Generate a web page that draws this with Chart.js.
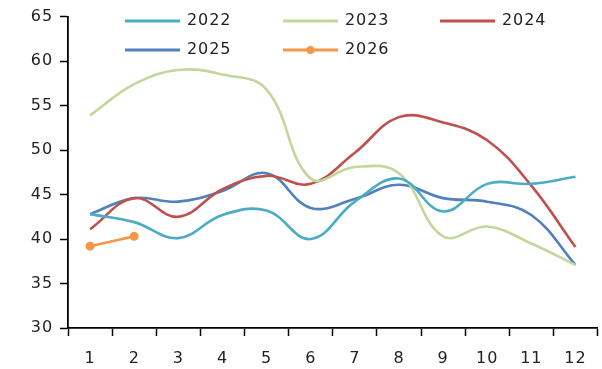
<!DOCTYPE html>
<html>
<head>
<meta charset="utf-8">
<script src="https://cdn.jsdelivr.net/npm/chart.js@4"></script>
<style>
  html, body { margin: 0; padding: 0; background: #fff; }
  #wrap { width: 602px; height: 369px; }
</style>
</head>
<body>
<div id="wrap"><canvas id="my-chart" width="602" height="369"></canvas></div>
<script>
'use strict';

// ***** DATA *****

let months = ['1', '2', '3', '4', '5', '6', '7', '8', '9', '10', '11', '12'];
let yearLabels = ['2022', '2023', '2024', '2025', '2026'];
let yTicks = [30, 35, 40, 45, 50, 55, 60, 65];

let values2022 = [42.8, 41.9, 40.1, 42.7, 43.2, 40.0, 44.2, 46.8, 43.1, 46.2, 46.2, 47.0];
let values2023 = [53.9, 57.4, 59.0, 58.5, 56.8, 46.8, 48.1, 47.4, 40.3, 41.4, 39.5, 37.1];
let values2024 = [41.1, 44.6, 42.5, 45.6, 47.1, 46.2, 49.7, 53.7, 53.1, 51.1, 46.0, 39.1];
let values2025 = [42.8, 44.6, 44.2, 45.4, 47.4, 43.5, 44.5, 46.1, 44.6, 44.2, 42.7, 37.1];
let values2026 = [39.2, 40.3];

// ***** STYLE *****

let colors = ['#4BACC6', '#C3D69B', '#C0504D', '#4F81BD', '#F79646'];
let fontFamily = '"DejaVu Sans", sans-serif';
let fontSize = 16;
let textSpacing = '0.9px';
let textColor = '#222';

// ***** CANVAS REFERENCE *****

let ctx = document.getElementById('my-chart').getContext('2d');

// ***** HELPERS *****

function makeSet(i, data){
  return {
    label: yearLabels[i],
    data: data,
    borderColor: colors[i],
    backgroundColor: colors[i],
    borderWidth: 2.6,
    tension: 0.4,
    pointRadius: i === 4 ? 4.5 : 0,
    pointBorderWidth: 0,
    fill: false
  };
}

// the reference text is set wide, so stretch it a little
let wideText = {
  id: 'wideText',
  beforeLayout(chart){ chart.ctx.letterSpacing = textSpacing; },
  beforeDraw(chart){ chart.ctx.letterSpacing = textSpacing; }
};

// legend drawn in three columns, two rows, inside the plot area
let gridLegend = {
  id: 'gridLegend',
  afterDraw(chart){
    let c = chart.ctx;
    let sets = chart.data.datasets;
    let colX = [125, 283, 440];
    let rowY = [21, 50];
    let sampleLen = 55;
    c.save();
    c.font = fontSize + 'px ' + fontFamily;
    c.letterSpacing = textSpacing;
    c.textBaseline = 'middle';
    for(let i = 0; i < sets.length; i++){
      let x = colX[i % 3];
      let y = rowY[Math.floor(i / 3)];
      c.strokeStyle = sets[i].borderColor;
      c.lineWidth = 2.8;
      c.beginPath();
      c.moveTo(x, y);
      c.lineTo(x + sampleLen, y);
      c.stroke();
      if(sets[i].pointRadius > 0){
        c.fillStyle = sets[i].borderColor;
        c.beginPath();
        c.arc(x + sampleLen / 2, y, 4, 0, Math.PI * 2);
        c.fill();
      }
      c.fillStyle = textColor;
      c.fillText(sets[i].label, x + sampleLen + 7, y);
    }
    c.restore();
  }
};

// ***** CHART *****

let myChartObj = {
  type: 'line',
  data: {
    labels: months,
    datasets: [
      makeSet(0, values2022),
      makeSet(1, values2023),
      makeSet(2, values2024),
      makeSet(3, values2025),
      makeSet(4, values2026)
    ]
  },
  options: {
    responsive: false,
    animation: false,
    layout: { padding: { top: 10, right: 4, left: 0, bottom: 0 } },
    plugins: {
      legend: { display: false },
      tooltip: { enabled: false }
    },
    scales: {
      x: {
        offset: true,
        grid: {
          offset: true,
          drawOnChartArea: false,
          drawTicks: true,
          tickLength: 8,
          tickWidth: 1.5,
          tickColor: '#000'
        },
        border: { display: true, color: '#000', width: 1.8 },
        ticks: {
          color: textColor,
          padding: 13,
          font: { family: fontFamily, size: fontSize }
        },
        afterFit(scale){ scale.height = 41; }
      },
      y: {
        min: yTicks[0],
        max: yTicks[yTicks.length - 1],
        afterBuildTicks(scale){
          scale.ticks = yTicks.map(v => ({ value: v }));
        },
        grid: {
          drawOnChartArea: false,
          drawTicks: true,
          tickLength: 8,
          tickWidth: 1.5,
          tickColor: '#000'
        },
        border: { display: true, color: '#000', width: 1.8 },
        ticks: {
          color: textColor,
          padding: 7,
          font: { family: fontFamily, size: fontSize }
        },
        afterFit(scale){ scale.width = 68; }
      }
    }
  },
  plugins: [wideText, gridLegend]
};

new Chart(ctx, myChartObj);
</script>
</body>
</html>
